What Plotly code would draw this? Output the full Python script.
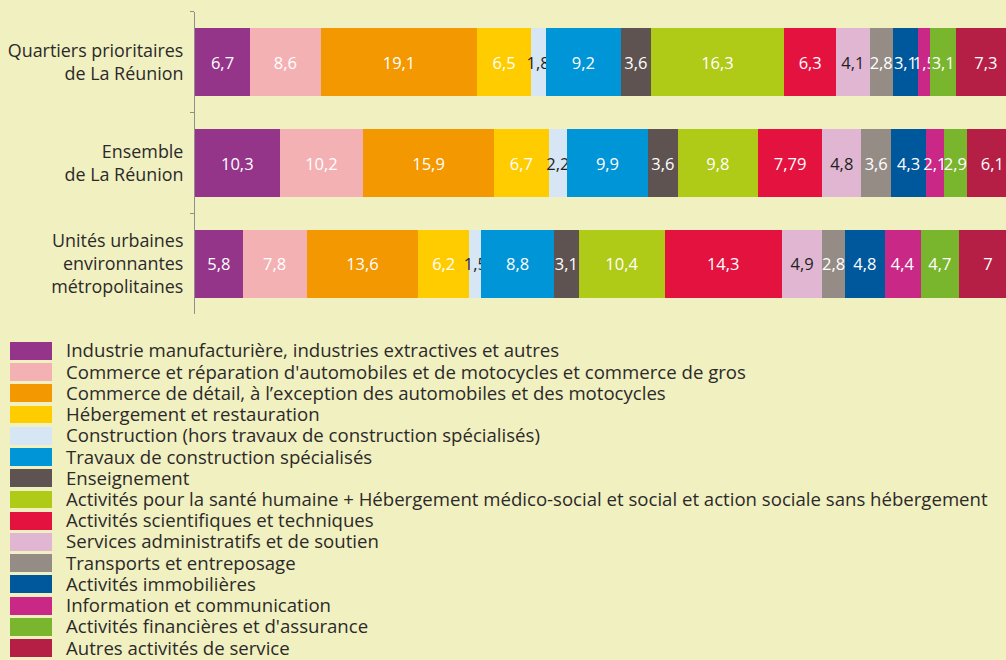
import plotly.graph_objects as go

# ---- data ----
zones = [
    "Quartiers prioritaires<br>de La Réunion",
    "Ensemble<br>de La Réunion",
    "Unités urbaines<br>environnantes<br>métropolitaines",
]

sectors = [
    "Industrie manufacturière, industries extractives et autres",
    "Commerce et réparation d'automobiles et de motocycles et commerce de gros",
    "Commerce de détail, à l’exception des automobiles et des motocycles",
    "Hébergement et restauration",
    "Construction (hors travaux de construction spécialisés)",
    "Travaux de construction spécialisés",
    "Enseignement",
    "Activités pour la santé humaine + Hébergement médico-social et social et action sociale sans hébergement",
    "Activités scientifiques et techniques",
    "Services administratifs et de soutien",
    "Transports et entreposage",
    "Activités immobilières",
    "Information et communication",
    "Activités financières et d'assurance",
    "Autres activités de service",
]

qp_reunion = [6.7, 8.6, 19.1, 6.5, 1.8, 9.2, 3.6, 16.3, 6.3, 4.1, 2.8, 3.1, 1.5, 3.1, 7.3]
ensemble_reunion = [10.3, 10.2, 15.9, 6.7, 2.2, 9.9, 3.6, 9.8, 7.79, 4.8, 3.6, 4.3, 2.1, 2.9, 6.1]
uu_metropole = [5.8, 7.8, 13.6, 6.2, 1.5, 8.8, 3.1, 10.4, 14.3, 4.9, 2.8, 4.8, 4.4, 4.7, 7]

colors = [
    "#94358A", "#F4B1B3", "#F39800", "#FFCC00", "#D6E6F5",
    "#0095D6", "#5E5350", "#AFCA17", "#E4123F", "#E0B6D3",
    "#968C86", "#00589C", "#C92886", "#7AB52E", "#B51F45",
]
label_colors = [
    "#FFFFFF", "#FFFFFF", "#FFFFFF", "#FFFFFF", "#231F20",
    "#FFFFFF", "#FFFFFF", "#FFFFFF", "#FFFFFF", "#231F20",
    "#FFFFFF", "#FFFFFF", "#FFFFFF", "#FFFFFF", "#FFFFFF",
]

# ---- style ----
BG = "#F1F0C1"
TXT = "#2B2A29"
FONT = "Open Sans"
W, H = 1006, 660


def fmt(v):
    return f"{v:g}".replace(".", ",")


fig = go.Figure()

for i, name in enumerate(sectors):
    vals = [qp_reunion[i], ensemble_reunion[i], uu_metropole[i]]
    fig.add_trace(go.Bar(
        name=name,
        y=zones,
        x=vals,
        orientation="h",
        width=0.675,
        marker=dict(color=colors[i], line=dict(width=0)),
        text=[fmt(v) for v in vals],
        textposition="inside",
        insidetextanchor="middle",
        textangle=0,
        constraintext="none",
        textfont=dict(color=label_colors[i], size=16.5, family=FONT),
        hovertemplate="%{y}<br>" + name + " : %{x}<extra></extra>",
        xaxis="x",
        yaxis="y",
    ))

# legend drawn as a small bar panel
fig.add_trace(go.Bar(
    y=sectors,
    x=[1] * len(sectors),
    orientation="h",
    width=0.84,
    marker=dict(color=colors, line=dict(width=0)),
    hoverinfo="skip",
    xaxis="x2",
    yaxis="y2",
))

fig.update_layout(
    width=W,
    height=H,
    margin=dict(l=0, r=0, t=0, b=0),
    paper_bgcolor=BG,
    plot_bgcolor=BG,
    barmode="stack",
    showlegend=False,
    uniformtext=dict(minsize=16.5, mode="show"),
    font=dict(family=FONT, color=TXT),
    xaxis=dict(
        domain=[195 / W, 1],
        range=[0, 98.8],
        visible=False,
        fixedrange=True,
    ),
    yaxis=dict(
        domain=[1 - 313 / H, 1 - 9 / H],
        type="category",
        categoryorder="array",
        categoryarray=zones,
        autorange="reversed",
        showline=True,
        linecolor="#8F8F8F",
        linewidth=1,
        ticks="outside",
        tickson="boundaries",
        ticklen=4,
        tickwidth=1,
        tickcolor="#8F8F8F",
        tickfont=dict(size=17.9, color=TXT, family=FONT),
        ticklabelstandoff=7,
        showgrid=False,
        zeroline=False,
        fixedrange=True,
    ),
    xaxis2=dict(
        domain=[10 / W, 52 / W],
        range=[0, 1],
        visible=False,
        anchor="y2",
        fixedrange=True,
    ),
    yaxis2=dict(
        domain=[1 - 659.7 / H, 1 - 339.3 / H],
        anchor="x2",
        side="right",
        type="category",
        categoryorder="array",
        categoryarray=sectors,
        autorange="reversed",
        tickmode="array",
        tickvals=sectors,
        ticks="",
        showline=False,
        showgrid=False,
        zeroline=False,
        tickfont=dict(size=18.6, color=TXT, family=FONT),
        ticklabelstandoff=13,
        fixedrange=True,
    ),
)

fig.write_html(
    "out.html",
    config={"displayModeBar": False},
    post_script="document.body.style.margin='0';document.body.style.background='" + BG + "';document.body.style.overflow='hidden';",
)
